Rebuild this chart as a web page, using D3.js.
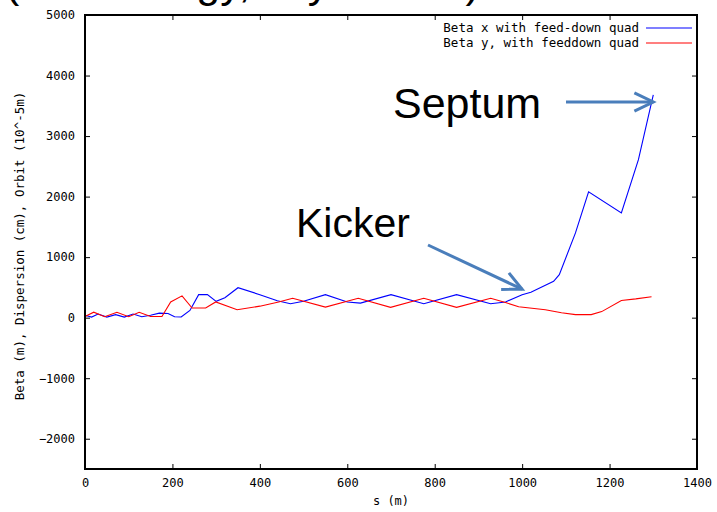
<!DOCTYPE html>
<html>

<head>
    <meta charset="utf-8">
    <script src="https://d3js.org/d3.v7.min.js"></script>
    <style>
        body { margin: 0; background: #fff; overflow: hidden; }
        svg { display: block; }
        .tick text { font-family: "DejaVu Sans Mono", monospace; font-size: 12px; fill: #000; }
        .tick line { stroke: #000; stroke-width: 1; }
        .slide { font-family: "Liberation Sans", Arial, sans-serif; fill: #000; }
    </style>
</head>

<body>
    <script type="text/javascript">
        // s (m) along the line, beta in m
        let sX = [0, 15, 30, 50, 70, 90, 110, 130, 150, 170, 190, 205, 220, 240, 260, 280, 300, 320, 350,
            400, 440, 470, 500, 550, 600, 630, 700, 775, 850, 928, 962, 1000, 1020, 1072, 1085, 1122, 1152,
            1227, 1266, 1300];
        let betaX = [40, 10, 60, 10, 50, 10, 60, 15, 40, 75, 70, 15, 10, 120, 380, 380, 270, 330, 495,
            380, 280, 230, 270, 380, 260, 240, 380, 230, 380, 230, 260, 380, 420, 600, 710, 1400, 2080,
            1730, 2610, 3680];

        let sY = [0, 20, 45, 73, 100, 124, 150, 176, 196, 222, 245, 276, 299, 348, 400, 443, 475, 550,
            625, 699, 775, 850, 928, 962, 992, 1053, 1090, 1122, 1158, 1182, 1227, 1260, 1296];
        let betaY = [20, 90, 15, 90, 15, 90, 20, 20, 260, 360, 160, 160, 260, 130, 190, 260, 320, 175,
            320, 170, 320, 170, 320, 250, 180, 130, 80, 50, 50, 100, 285, 310, 345];

        let xTicks = [0, 200, 400, 600, 800, 1000, 1200, 1400];
        let yTicks = [-2000, -1000, 0, 1000, 2000, 3000, 4000, 5000];

        let seriesNames = ["Beta x with feed-down quad", "Beta y, with feeddown quad"];
        let seriesColors = ["#0000ff", "#ff0000"];

        let W = 717, H = 512;
        let mLeft = 85, mRight = 697, mTop = 15, mBottom = 469;

        let svg = d3.select("body")
            .append("svg")
            .attr("width", W)
            .attr("height", H);

        let x = d3.scaleLinear().domain([0, 1400]).range([mLeft, mRight]);
        let y = d3.scaleLinear().domain([-2500, 5000]).range([mBottom, mTop]);

        // slide heading, mostly off the top edge
        svg.append("text")
            .attr("class", "slide")
            .attr("x", 5)
            .attr("y", -3)
            .attr("font-size", 43)
            .text("(Low energy, key values)");

        // axes with inward ticks, mirrored on top / right
        let fmt = d3.format("d");
        svg.append("g")
            .attr("transform", `translate(0,${mBottom})`)
            .call(d3.axisBottom(x).tickValues(xTicks).tickFormat(fmt).tickSize(-5).tickPadding(9))
            .call(g => g.select(".domain").remove());
        svg.append("g")
            .attr("transform", `translate(0,${mTop})`)
            .call(d3.axisTop(x).tickValues(xTicks).tickSize(-5).tickFormat(""))
            .call(g => g.select(".domain").remove());
        svg.append("g")
            .attr("transform", `translate(${mLeft},0)`)
            .call(d3.axisLeft(y).tickValues(yTicks).tickFormat(fmt).tickSize(-5).tickPadding(10))
            .call(g => g.select(".domain").remove());
        svg.append("g")
            .attr("transform", `translate(${mRight},0)`)
            .call(d3.axisRight(y).tickValues(yTicks).tickSize(-5).tickFormat(""))
            .call(g => g.select(".domain").remove());

        svg.selectAll(".tick text").attr("fill", "#000");

        // curves
        let line = d3.line().x(d => x(d[0])).y(d => y(d[1]));
        let curves = [d3.zip(sX, betaX), d3.zip(sY, betaY)];
        curves.forEach((c, i) => {
            svg.append("path")
                .attr("d", line(c))
                .attr("fill", "none")
                .attr("stroke", seriesColors[i])
                .attr("stroke-width", 1.1);
        });

        // frame
        svg.append("rect")
            .attr("x", mLeft)
            .attr("y", mTop)
            .attr("width", mRight - mLeft)
            .attr("height", mBottom - mTop)
            .attr("fill", "none")
            .attr("stroke", "#000")
            .attr("stroke-width", 2);

        // legend
        seriesNames.forEach((n, i) => {
            let ly = 28 + i * 15;
            svg.append("text")
                .attr("x", 639)
                .attr("y", ly)
                .attr("dy", "0.35em")
                .attr("text-anchor", "end")
                .attr("font-family", "DejaVu Sans Mono, monospace")
                .attr("font-size", 12.5)
                .text(n);
            svg.append("line")
                .attr("x1", 646).attr("x2", 692)
                .attr("y1", ly).attr("y2", ly)
                .attr("stroke", seriesColors[i])
                .attr("stroke-width", 1.1);
        });

        // axis titles
        svg.append("text")
            .attr("x", x(700))
            .attr("y", 505)
            .attr("text-anchor", "middle")
            .attr("font-family", "DejaVu Sans Mono, monospace")
            .attr("font-size", 12)
            .text("s (m)");
        svg.append("text")
            .attr("transform", "translate(24,246) rotate(-90)")
            .attr("text-anchor", "middle")
            .attr("font-family", "DejaVu Sans Mono, monospace")
            .attr("font-size", 12.5)
            .text("Beta (m), Dispersion (cm), Orbit (10^-5m)");

        // annotations
        let arrowColor = "#4a7ebb";
        function arrow(x1, y1, x2, y2) {
            let a = Math.atan2(y2 - y1, x2 - x1), h = 21, spread = 0.45;
            let p = [[x2 - h * Math.cos(a - spread), y2 - h * Math.sin(a - spread)], [x2, y2],
                     [x2 - h * Math.cos(a + spread), y2 - h * Math.sin(a + spread)]];
            svg.append("line")
                .attr("x1", x1).attr("y1", y1).attr("x2", x2).attr("y2", y2)
                .attr("stroke", arrowColor).attr("stroke-width", 3);
            svg.append("path")
                .attr("d", d3.line()(p))
                .attr("fill", "none")
                .attr("stroke", arrowColor)
                .attr("stroke-width", 3)
                .attr("stroke-linejoin", "miter");
        }

        svg.append("text")
            .attr("class", "slide")
            .attr("x", 393)
            .attr("y", 118)
            .attr("font-size", 43)
            .text("Septum");
        arrow(566, 102, x(1300), 102);

        svg.append("text")
            .attr("class", "slide")
            .attr("x", 296)
            .attr("y", 237)
            .attr("font-size", 41)
            .text("Kicker");
        arrow(428, 245, x(1000), y(470));
    </script>
</body>

</html>
